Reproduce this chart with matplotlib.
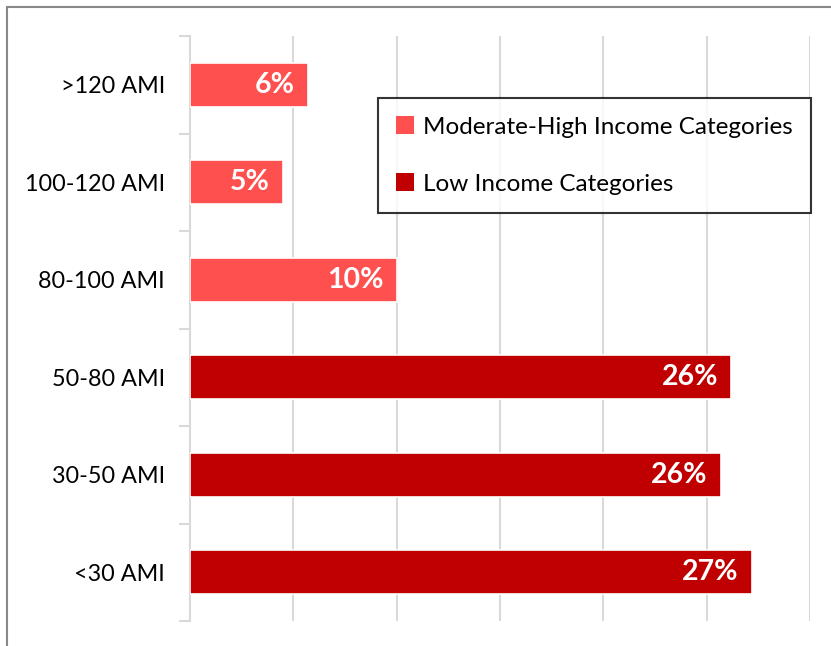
import matplotlib.pyplot as plt
from matplotlib.patches import Patch, Rectangle

categories = ["<30 AMI", "30-50 AMI", "50-80 AMI", "80-100 AMI", "100-120 AMI", ">120 AMI"]
values = [27.2, 25.7, 26.2, 10.0, 4.5, 5.7]
labels = ["27%", "26%", "26%", "10%", "5%", "6%"]
groups = ["Low", "Low", "Low", "Mod", "Mod", "Mod"]

legend_names = ["Moderate-High Income Categories", "Low Income Categories"]
light_red = "#FF5050"
dark_red = "#C00000"
grid_gray = "#D9D9D9"

plt.rcParams['font.family'] = ['Lato', 'DejaVu Sans']

fig = plt.figure(figsize=(8.31, 6.46), dpi=100)
W, H = 831, 646
ax = fig.add_axes([190 / W, 1 - 621 / H, (810 - 190) / W, (621 - 36) / H])

colors = [dark_red if g == "Low" else light_red for g in groups]
ypos = list(range(len(categories)))
bars = ax.barh(ypos, values, height=0.45, color=colors, edgecolor="white",
               linewidth=1.2, zorder=3)

for b, lab in zip(bars, labels):
    ax.text(b.get_width() - 0.65, b.get_y() + b.get_height() / 2, lab,
            ha="right", va="center", color="white", fontsize=20.5,
            fontweight="bold", zorder=4)

ax.set_xlim(0, 30)
ax.set_ylim(-0.5, len(categories) - 0.5)
ax.set_xticks([5, 10, 15, 20, 25, 30])
ax.xaxis.grid(True, color=grid_gray, linewidth=1.5, zorder=0)
ax.tick_params(axis="x", length=0, labelbottom=False)

ax.set_yticks(ypos)
ax.set_yticklabels(categories, fontsize=16.8)
ax.set_yticks([y - 0.5 for y in range(len(categories) + 1)], minor=True)
ax.tick_params(axis="y", which="major", length=0, pad=18)
ax.tick_params(axis="y", which="minor", length=8, width=1.5, color=grid_gray)

for s in ["top", "right", "bottom"]:
    ax.spines[s].set_visible(False)
ax.spines["left"].set_color(grid_gray)
ax.spines["left"].set_linewidth(1.5)

handles = [Patch(facecolor=light_red), Patch(facecolor=dark_red)]
leg = fig.legend(handles, legend_names, loc="upper left",
                 bbox_to_anchor=(378 / W, 1 - 98 / H), fontsize=17.5,
                 frameon=True, fancybox=False, edgecolor="black",
                 handlelength=0.75, handleheight=0.75, handletextpad=0.35,
                 labelspacing=1.47, borderpad=0.75, borderaxespad=0)
leg.get_frame().set_linewidth(1.5)

# outer chart border (left and top visible)
fig.patches.append(Rectangle((7 / W, -0.1), 1.2, 1 - 7 / H + 0.1,
                             transform=fig.transFigure, fill=False,
                             edgecolor="#888888", linewidth=1.5))

fig.savefig("out.png", dpi=100)
